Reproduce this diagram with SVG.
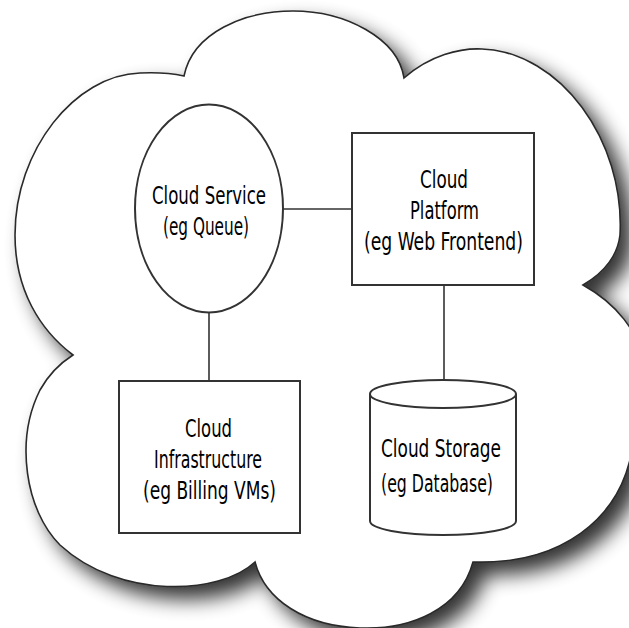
<svg xmlns="http://www.w3.org/2000/svg" width="629" height="628" viewBox="0 0 629 628">
<style>
.cloud{fill:#fff;stroke:#2a2a2a;stroke-width:1.6}
.node{fill:#fff;stroke:#333;stroke-width:2}
.edge{fill:none;stroke:#333;stroke-width:1.6}
text{font-family:"DejaVu Sans Condensed","DejaVu Sans","Liberation Sans",sans-serif;font-size:24px;fill:#000}
</style>
<defs>
<filter id="shadow" x="-20%" y="-20%" width="150%" height="150%">
<feGaussianBlur in="SourceAlpha" stdDeviation="10" result="b"/>
<feOffset in="b" dx="12" dy="12" result="o"/>
<feComponentTransfer in="o" result="s"><feFuncA type="linear" slope="0.8"/></feComponentTransfer>
<feMerge><feMergeNode in="s"/><feMergeNode in="SourceGraphic"/></feMerge>
</filter>
</defs>
<rect width="629" height="628" fill="#fff"/>
<g id="cloud">
<path class="cloud" filter="url(#shadow)" d="M184 76 C193 32 245 11 293 11 C345 11 398 38 404 78 C430 55 460 48 482 49 C560 52 625 140 620 235 C617 260 600 275 583 285 C610 300 645 330 645 380 C645 420 640 440 632 450 C620 520 560 565 473 562 C460 610 410 630 360 628 C305 626 265 600 255 562 C220 595 120 600 60 545 C25 510 15 440 40 390 C50 372 62 362 73 355 C40 330 15 290 15 235 C15 150 75 75 140 73 C160 72 175 74 184 76 Z"/>
</g>
<g id="connectors">
<line class="edge" x1="283" y1="209" x2="352" y2="209"/>
<line class="edge" x1="444" y1="285" x2="444" y2="380"/>
<line class="edge" x1="209" y1="313" x2="209" y2="381"/>
</g>
<g id="cloud-service">
<ellipse class="node" cx="209" cy="208.5" rx="74" ry="104"/>
<text x="152" y="203.5" textLength="114" lengthAdjust="spacingAndGlyphs">Cloud Service</text>
<text x="163" y="235" textLength="86" lengthAdjust="spacingAndGlyphs">(eg Queue)</text>
</g>
<g id="cloud-platform">
<rect class="node" x="352" y="133" width="182" height="152"/>
<text x="420" y="188" textLength="48" lengthAdjust="spacingAndGlyphs">Cloud</text>
<text x="410" y="219" textLength="69" lengthAdjust="spacingAndGlyphs">Platform</text>
<text x="364" y="250" textLength="159" lengthAdjust="spacingAndGlyphs">(eg Web Frontend)</text>
</g>
<g id="cloud-infrastructure">
<rect class="node" x="119" y="381" width="181" height="152"/>
<text x="185" y="437" textLength="47" lengthAdjust="spacingAndGlyphs">Cloud</text>
<text x="154" y="468" textLength="108" lengthAdjust="spacingAndGlyphs">Infrastructure</text>
<text x="143" y="499" textLength="133" lengthAdjust="spacingAndGlyphs">(eg Billing VMs)</text>
</g>
<g id="cloud-storage">
<path class="node" d="M370 394 A73 14 0 0 1 516 394 L516 521 A73 14 0 0 1 370 521 Z"/>
<path class="node" fill="none" d="M370 394 A73 14 0 0 0 516 394"/>
<text x="381" y="457" textLength="120" lengthAdjust="spacingAndGlyphs">Cloud Storage</text>
<text x="381" y="492" textLength="112" lengthAdjust="spacingAndGlyphs">(eg Database)</text>
</g>
</svg>
